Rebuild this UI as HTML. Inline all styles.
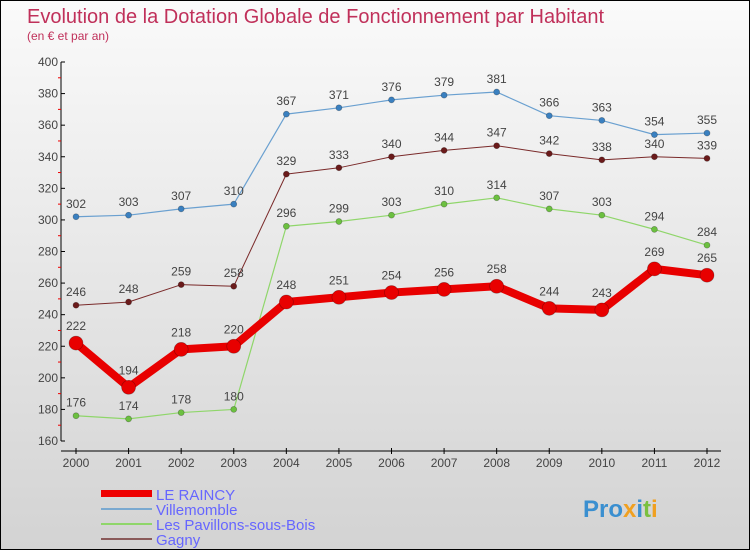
<!DOCTYPE html>
<html><head><meta charset="utf-8"><style>
body{margin:0;}
#c{width:748px;height:548px;border:1px solid #000;background:linear-gradient(#fafafa,#d3d3d3);position:relative;font-family:"Liberation Sans",sans-serif;overflow:hidden}
svg text{font-family:"Liberation Sans",sans-serif}
</style></head><body>
<div id="c">
<svg id="s" width="748" height="548" xmlns="http://www.w3.org/2000/svg">
<text x="26" y="22" font-size="20" fill="#c0305a">Evolution de la Dotation Globale de Fonctionnement par Habitant</text>
<text x="26" y="39" font-size="12" fill="#c0305a">(en € et par an)</text>
<g id="axes"></g><g id="series"></g>
<g>
<rect x="100" y="489" width="51" height="7" fill="#e00"/>
<text x="155" y="499" font-size="15" fill="#66f">LE RAINCY</text>
<rect x="100" y="507" width="51" height="2" fill="#7aa9d0"/>
<text x="155" y="514" font-size="15" fill="#66f">Villemomble</text>
<rect x="100" y="522" width="51" height="2" fill="#8fd66a"/>
<text x="155" y="529" font-size="15" fill="#66f">Les Pavillons-sous-Bois</text>
<rect x="100" y="537" width="51" height="2" fill="#8a5a5a"/>
<text x="155" y="544" font-size="15" fill="#66f">Gagny</text>
</g>
<text x="582" y="516" font-size="24" font-weight="bold" fill="#3a8fd0">Pro<tspan fill="#f0a020">x</tspan><tspan fill="#3a8fd0">i</tspan><tspan fill="#7ac040">t</tspan><tspan fill="#f0a020">i</tspan></text>
</svg></div>
<script>
const years=[2000,2001,2002,2003,2004,2005,2006,2007,2008,2009,2010,2011,2012];
const yTicks=[160,180,200,220,240,260,280,300,320,340,360,380,400];
const raincy=[222,194,218,220,248,251,254,256,258,244,243,269,265];
const villemomble=[302,303,307,310,367,371,376,379,381,366,363,354,355];
const pavillons=[176,174,178,180,296,299,303,310,314,307,303,294,284];
const gagny=[246,248,259,258,329,333,340,344,347,342,338,340,339];
const NS="http://www.w3.org/2000/svg";
const X=i=>75+i*(706-75)/(years.length-1);
const Y=v=>440-(v-160)*(440-61)/240;
function mk(t,a,p){const e=document.createElementNS(NS,t);for(const k in a)e.setAttribute(k,a[k]);p.appendChild(e);return e;}
const ax=document.getElementById('axes');
let e=mk('line',{x1:60,y1:61,x2:60,y2:440,stroke:'#000','stroke-width':1},ax);


e=mk('line',{x1:60,y1:450,x2:720,y2:450,stroke:'#000','stroke-width':1},ax);


yTicks.forEach((v,i)=>{
 mk('line',{x1:60,y1:Y(v),x2:64,y2:Y(v),stroke:'#000'},ax);
 if(i<yTicks.length-1) mk('line',{x1:57,y1:Y(v+10),x2:60,y2:Y(v+10),stroke:'#e00'},ax);
 const t=mk('text',{x:57,y:Y(v)+4,'font-size':12,fill:'#444','text-anchor':'end'},ax);
 t.textContent=v;
 
 
});
years.forEach((y,i)=>{
 mk('line',{x1:X(i),y1:447,x2:X(i),y2:453,stroke:'#000'},ax);
 const t=mk('text',{x:X(i),y:466,'font-size':12,fill:'#444','text-anchor':'middle'},ax);
 t.textContent=y;
 
 
});
const sg=document.getElementById('series');
function series(data,color,w,r,name,dot,lblOff){
 const g=mk('g',{},sg);
 
 
 const pl=mk('polyline',{points:data.map((v,i)=>X(i)+','+Y(v)).join(' '),fill:'none',stroke:color,'stroke-width':w,'stroke-linejoin':'round'},g);
 
 
 data.forEach((v,i)=>{
  const c=mk('circle',{cx:X(i),cy:Y(v),r:r,fill:dot,stroke:'rgba(0,0,0,0.3)','stroke-width':0.7},g);
  
  
  const t=mk('text',{x:X(i),y:Y(v)-lblOff,'font-size':12,fill:'#444','text-anchor':'middle'},g);
  t.textContent=v;
  
  
 });
}
series(gagny,'#7a2a2a',1,3,'gagny','#6a1a1a',9);
series(pavillons,'#8fd66a',1.2,3,'pavillons','#6cc040',9);
series(villemomble,'#6aa0d0',1.2,3,'villemomble','#3a80c0',9);
series(raincy,'#e80000',8,7,'le-raincy','#e80000',13);
</script>
</body></html>
